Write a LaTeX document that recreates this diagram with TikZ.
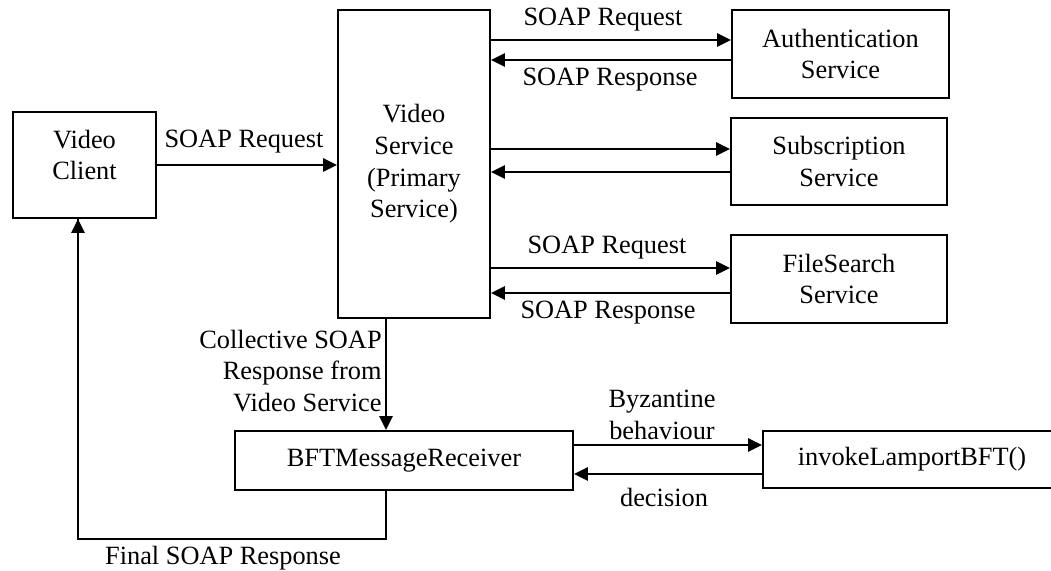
\documentclass[tikz,border=0pt]{standalone}
\usepackage{fontspec}
\setmainfont{Liberation Serif}
\usetikzlibrary{arrows.meta}
\tikzset{
  box/.style={draw, line width=1.1pt, align=center, inner sep=1pt,
    font=\fontsize{15}{18}\selectfont},
  lbl/.style={align=center, inner sep=0pt, font=\fontsize{15}{18}\selectfont},
  arr/.style={line width=1.6pt, -{Triangle[length=0.28cm,width=0.26cm]}},
  wire/.style={line width=1.6pt}
}
\begin{document}
\begin{tikzpicture}[x=0.02cm,y=-0.02cm]
\clip (0,0) rectangle (1051,571);
\fill[white] (0,0) rectangle (1051,571);

% services and components
\node[box, minimum width=2.86cm, minimum height=2.12cm] (client) at (84.5,165) {};
\node[lbl] (clientlbl) at ([yshift=0.2cm]client.center) {Video\\Client};
\node[box, minimum width=3.04cm, minimum height=6.16cm] (video) at (414,164) {Video\\Service\\(Primary\\Service)};
\node[box, minimum width=4.34cm, minimum height=1.76cm] (auth) at (840.5,54) {Authentication\\Service};
\node[box, minimum width=4.32cm, minimum height=1.74cm] (sub) at (839,161.5) {Subscription\\Service};
\node[box, minimum width=4.32cm, minimum height=1.76cm] (fs) at (839,279) {FileSearch\\Service};
\node[box, minimum width=6.76cm, minimum height=1.18cm] (bft) at (404,460.5) {BFTMessageReceiver};
\node[box, minimum width=5.96cm, minimum height=1.14cm] (lamport) at (912,459.5) {invokeLamportBFT()};

% client request
\draw[arr] (client.east) -- (client.east -| video.west);
\node[lbl] (lreq0) at (244,142) {SOAP Request};

% authentication exchange
\coordinate (a1) at ([yshift=0.28cm]auth.west);
\coordinate (a2) at ([yshift=-0.12cm]auth.west);
\draw[arr] (a1 -| video.east) -- (a1);
\draw[arr] (a2) -- (a2 -| video.east);
\node[lbl] (lreq1) at (603,20) {SOAP Request};
\node[lbl] (lres1) at (610,80) {SOAP Response};

% subscription exchange
\coordinate (s1) at ([yshift=0.25cm]sub.west);
\coordinate (s2) at ([yshift=-0.21cm]sub.west);
\draw[arr] (s1 -| video.east) -- (s1);
\draw[arr] (s2) -- (s2 -| video.east);

% file search exchange
\coordinate (f1) at ([yshift=0.22cm]fs.west);
\coordinate (f2) at ([yshift=-0.28cm]fs.west);
\draw[arr] (f1 -| video.east) -- (f1);
\draw[arr] (f2) -- (f2 -| video.east);
\node[lbl] (lreq2) at (607,248) {SOAP Request};
\node[lbl] (lres2) at (608,313) {SOAP Response};

% collective response to the BFT receiver
\coordinate (c1) at ([xshift=-0.36cm]bft.north);
\draw[arr] (c1 |- video.south) -- (c1);
\node[lbl, align=right, anchor=east] (lcoll) at (382,371) {Collective SOAP\\Response from\\Video Service};

% Byzantine agreement
\coordinate (b1) at ([yshift=0.31cm]bft.east);
\coordinate (b2) at ([yshift=-0.27cm]bft.east);
\draw[arr] (b1) -- (b1 -| lamport.west);
\draw[arr] (b2 -| lamport.west) -- (b2);
\node[lbl] (lbyz) at (662,415) {Byzantine\\behaviour};
\node[lbl] (ldec) at (664,497) {decision};

% final response back to the client
\coordinate (r1) at ([xshift=-0.36cm]bft.south);
\coordinate (r2) at ([xshift=-0.13cm]client.south);
\draw[wire] (r1) -- ++(0,48) -| (r2);
\draw[arr] ([yshift=-0.8cm]r2) -- (r2);
\node[lbl] (lfin) at (223,558) {Final SOAP Response};
\end{tikzpicture}
\end{document}
